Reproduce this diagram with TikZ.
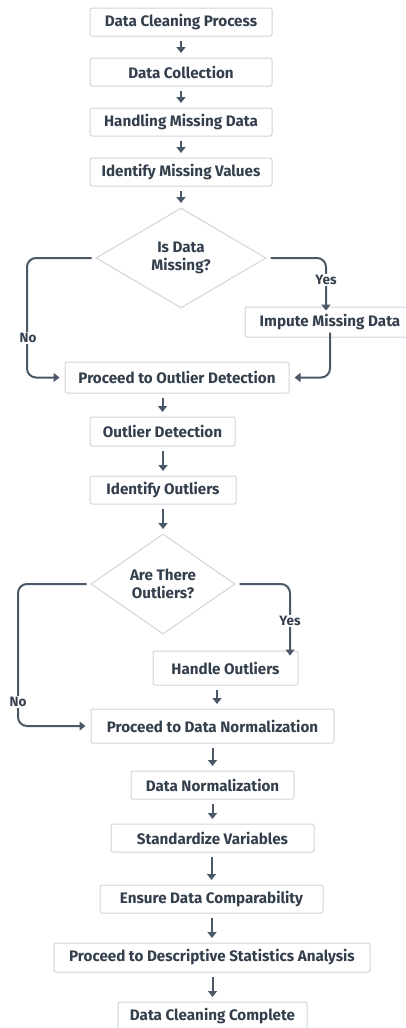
\documentclass[tikz,border=0pt]{standalone}
\usepackage{fontspec}
\setmainfont{Fira Sans}
\usetikzlibrary{arrows.meta,shapes.geometric}
\definecolor{boxline}{HTML}{CFD5DB}
\definecolor{txt}{HTML}{333F4C}
\definecolor{arrc}{HTML}{4A5867}
\tikzset{
  box/.style={draw=boxline, line width=1pt, rounded corners=2pt, fill=white, text=txt,
    font=\bfseries\fontsize{15.2}{17}\selectfont, inner sep=0pt},
  dec/.style={draw=boxline, line width=1pt, diamond, fill=white, text=txt,
    font=\bfseries\fontsize{15.2}{18}\selectfont, align=center, inner sep=0pt},
  arr/.style={draw=arrc, line width=2pt, -{Triangle[length=6pt,width=9pt]}},
  lnk/.style={draw=arrc, line width=2pt, rounded corners=9pt, -{Triangle[length=6pt,width=9pt]}},
  lbl/.style={fill=white, text=txt, font=\bfseries\fontsize{13.5}{15}\selectfont, inner sep=1pt},
  gap/.style={shorten <=4.5pt, shorten >=4.5pt},
}
\begin{document}
\begin{tikzpicture}[x=1pt,y=-1pt]
\useasboundingbox (0,0) rectangle (406,1028);
% nodes
\node[box, minimum width=182pt, minimum height=28pt] (b1) at (181,22) {Data Cleaning Process};
\node[box, minimum width=182pt, minimum height=28pt] (b2) at (181,72) {Data Collection};
\node[box, minimum width=182pt, minimum height=28pt] (b3) at (181,122) {Handling Missing Data};
\node[box, minimum width=182pt, minimum height=28pt] (b4) at (181,172) {Identify Missing Values};
\node[dec, minimum width=170pt, minimum height=100pt] (d1) at (181,258) {Is Data\\Missing?};
\node[box, minimum width=170pt, minimum height=30pt] (imp) at (330,322) {Impute Missing Data};
\node[box, minimum width=224pt, minimum height=31pt] (p1) at (177,377.5) {Proceed to Outlier Detection};
\node[box, minimum width=145pt, minimum height=29pt] (o1) at (162.5,431.5) {Outlier Detection};
\node[box, minimum width=146pt, minimum height=28pt] (o2) at (163,490) {Identify Outliers};
\node[dec, minimum width=144pt, minimum height=100pt] (d2) at (163,584) {Are There\\Outliers?};
\node[box, minimum width=145pt, minimum height=34pt] (h1) at (225.5,668) {Handle Outliers};
\node[box, minimum width=243pt, minimum height=34pt] (p2) at (212.5,726) {Proceed to Data Normalization};
\node[box, minimum width=163pt, minimum height=28pt] (n1) at (212.5,785) {Data Normalization};
\node[box, minimum width=203pt, minimum height=28pt] (s1) at (212.5,838) {Standardize Variables};
\node[box, minimum width=223pt, minimum height=28pt] (e1) at (211.5,899) {Ensure Data Comparability};
\node[box, minimum width=316pt, minimum height=29pt] (pd) at (212,957.5) {Proceed to Descriptive Statistics Analysis};
\node[box, minimum width=189pt, minimum height=28pt] (c1) at (212.5,1016) {Data Cleaning Complete};
% straight arrows
\draw[arr,gap] (b1) -- (b2);
\draw[arr,gap] (b2) -- (b3);
\draw[arr,gap] (b3) -- (b4);
\draw[arr,gap] (b4) -- (d1);
\draw[arr,gap] (o1.north |- p1.south) -- (o1.north);
\draw[arr,gap] (o2.north |- o1.south) -- (o2.north);
\draw[arr,gap] (o2) -- (d2);
\draw[arr,gap] ([xshift=-8.5pt]h1.south) -- ([xshift=-8.5pt]h1.south |- p2.north);
\draw[arr,gap] (n1.north |- p2.south) -- (n1.north);
\draw[arr,gap] (n1) -- (s1);
\draw[arr,gap] (e1.north |- s1.south) -- (e1.north);
\draw[arr,gap] (pd.north |- e1.south) -- (pd.north);
\draw[arr,gap] (c1.north |- pd.south) -- (c1.north);
% branches of first decision
\coordinate (nl1) at (27,0);
\coordinate (yl1) at (326,0);
\draw[lnk] ([xshift=-4pt]d1.west) -- (nl1 |- d1.west) -- (nl1 |- p1.west) -- ([xshift=-5pt]p1.west);
\node[lbl] (no1) at (28,338) {No};
\draw[lnk] ([xshift=4pt]d1.east) -- (yl1 |- d1.east) -- ([yshift=-4pt]yl1 |- imp.north);
\node[lbl] (yes1) at (326,280) {Yes};
\draw[lnk] ([yshift=5pt]imp.south) -- (imp.south |- p1.east) -- ([xshift=5pt]p1.east);
% branches of second decision
\coordinate (nl2) at (18,0);
\coordinate (yl2) at (290,0);
\draw[lnk] ([xshift=-4pt]d2.west) -- (nl2 |- d2.west) -- (nl2 |- p2.west) -- ([xshift=-5pt]p2.west);
\node[lbl] (no2) at (18,702) {No};
\draw[lnk] ([xshift=4pt]d2.east) -- (yl2 |- d2.east) -- ([yshift=-5pt]yl2 |- h1.north);
\node[lbl] (yes2) at (290,621) {Yes};
\end{tikzpicture}
\end{document}
